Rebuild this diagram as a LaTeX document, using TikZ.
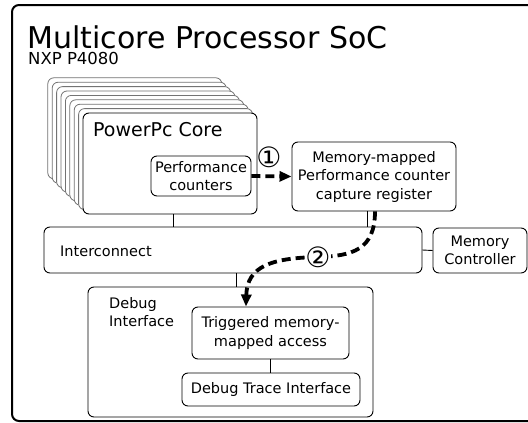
\documentclass[tikz,border=0pt]{standalone}
\usepackage{fontspec}
\setmainfont{DejaVu Sans}
\usetikzlibrary{arrows.meta,calc}
\begin{document}
\begin{tikzpicture}[x=1pt,y=-1pt,
  box/.style={draw=black, line width=0.9pt, rounded corners=6pt, fill=white, inner sep=0pt},
  lbl/.style={font=\fontsize{14.5}{18.5}\selectfont, align=center},
  stack/.style={draw=black!55, line width=0.8pt, rounded corners=6pt, fill=white},
  flow/.style={line width=3.8pt, dash pattern=on 9pt off 5pt, -{Triangle[length=12pt,width=10pt]}},
  link/.style={draw=black, line width=0.9pt},
  circ/.style={font=\fontsize{28}{30}\selectfont, inner sep=0.5pt}]
\useasboundingbox (0,0) rectangle (528,423);
\clip (0,0) rectangle (528,423);
% outer SoC frame
\draw[line width=2pt, rounded corners=7pt] (12,5) rectangle (545,421);
\node[anchor=base west, inner sep=0pt, font=\fontsize{30}{36}\selectfont] (title) at (27,48) {Multicore Processor SoC};
\node[anchor=base west, inner sep=0pt, font=\fontsize{16.5}{18}\selectfont] (chip) at (28,64.5) {NXP P4080};
% stacked cores
\foreach \o in {35.2,30.8,26.4,22,17.6,13.2,8.8,4.4}
  \draw[stack] (83-\o,113-\o) rectangle (257-\o,214-\o);
\node[box, minimum width=174pt, minimum height=101pt] (core) at (170,163.5) {};
\node[anchor=base west, inner sep=0pt, font=\fontsize{19}{22}\selectfont] (corelbl) at (93,136) {PowerPc Core};
\node[box, lbl, minimum width=100pt, minimum height=40pt] (perf) at (201,176) {Performance\\counters};
\node[box, lbl, minimum width=164pt, minimum height=69pt] (mmreg) at (374,176.5) {Memory-mapped\\Performance counter\\capture register};
\node[box, minimum width=378pt, minimum height=46pt] (inter) at (233,250) {};
\node[anchor=base west, inner sep=0pt, font=\fontsize{14.5}{18}\selectfont] (interlbl) at (60,256) {Interconnect};
\node[box, lbl, minimum width=94pt, minimum height=45pt] (memctl) at (480,250.5) {Memory\\Controller};
\node[box, minimum width=285pt, minimum height=130pt] (debug) at (230.5,352) {};
\node[anchor=north west, inner sep=0pt, align=left, font=\fontsize{14.5}{18.5}\selectfont] (debuglbl) at (109,297) {Debug\\Interface};
\node[box, lbl, minimum width=157pt, minimum height=52pt] (trig) at (270.5,333) {Triggered memory-\\mapped access};
\node[box, lbl, minimum width=178pt, minimum height=33pt] (trace) at (271,389.5) {Debug Trace Interface};
% links
\draw[link] (core.south) ++(3,0) coordinate (a) -- (a |- inter.north);
\draw[link] (mmreg.south) ++(-7,0) coordinate (b) -- (b |- inter.north);
\draw[link] (inter.east) -- (memctl.west);
\draw[link] (inter.south) ++(3,0) coordinate (c) -- (c |- debug.north);
\draw[link] (trig.south) -- (trig.south |- trace.north);
% flows
\draw[flow] (perf.east) -- (mmreg.west);
\node[circ] (one) at (269,157) {①};
\coordinate (s2) at ($(mmreg.south)+(1,0)$);
\coordinate (e2) at ($(trig.north)+(-24.5,0)$);
\draw[flow] (s2) .. controls (375,250) and (352,256) .. (318,257) .. controls (272,258) and (247,266) .. (e2);
\node[circ, fill=white] (two) at (318,257.5) {②};
\end{tikzpicture}
\end{document}
